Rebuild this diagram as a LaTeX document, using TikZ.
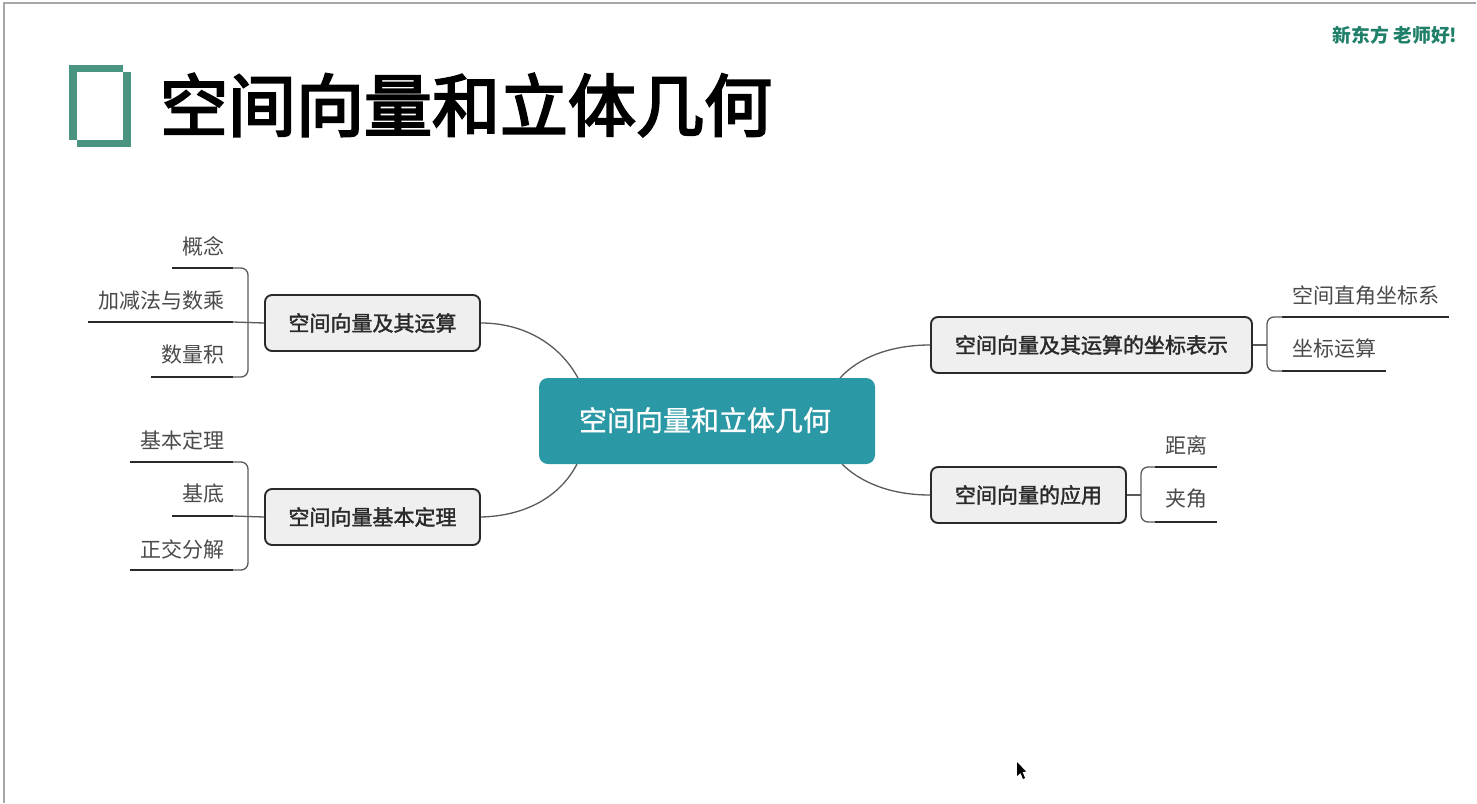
\documentclass[tikz,border=0pt]{standalone}
\usepackage{fontspec}
\setmainfont{Noto Sans CJK SC}
\newfontfamily\medA[RawFeature={embolden=1.7}]{Noto Sans CJK SC}
\newfontfamily\medB[RawFeature={embolden=0.9}]{Noto Sans CJK SC}
\newfontfamily\medC[RawFeature={embolden=3.2}]{Noto Sans CJK SC}
\usetikzlibrary{calc}
\definecolor{framec}{HTML}{A6A6A6}
\definecolor{markc}{HTML}{4A9581}
\definecolor{logoc}{HTML}{1F7F68}
\definecolor{rootc}{HTML}{2B98A5}
\definecolor{boxc}{HTML}{EFEFEF}
\definecolor{inkc}{HTML}{2A2A2A}
\definecolor{linec}{HTML}{5A5A5A}
\tikzset{
  rootbox/.style={fill=rootc,rounded corners=9pt,text=white,font=\medB\fontsize{28}{30}\selectfont,inner sep=0pt},
  subbox/.style={draw=inkc,line width=1.9pt,fill=boxc,rounded corners=7pt,text=inkc,font=\medA\fontsize{21}{24}\selectfont,inner sep=0pt},
  leaf/.style={text=inkc!85!white,font=\fontsize{21}{24}\selectfont,inner sep=0pt},
  wire/.style={draw=linec,line width=1.3pt},
  rulestyle/.style={draw=inkc,line width=1.9pt},
  bracket/.style={draw=linec,line width=1.3pt,rounded corners=7pt}
}
\begin{document}
\begin{tikzpicture}[x=1pt,y=-1pt]
\useasboundingbox (0,0) rectangle (1477,803);
\fill[white] (0,0) rectangle (1477,803);
% screen frame
\draw[framec,line width=1.6pt] (4,803) -- (4,3) -- (1476,3);
% title mark
\fill[markc] (69,65) rectangle (123,72);
\fill[markc] (69,65) rectangle (77,140);
\fill[markc] (123,72) rectangle (131,147);
\fill[markc] (77,140) rectangle (131,147);
\node[font=\medC\fontsize{68}{72}\selectfont,text=black,inner sep=0pt] (title) at (466,105) {空间向量和立体几何};
\node[font=\bfseries\fontsize{18.8}{20}\selectfont,text=logoc,inner sep=0pt,anchor=east] (brand) at (1457.5,35) {新东方 老师好!};
% root
\node[rootbox,minimum width=336pt,minimum height=86pt] (root) at (707,421) {\raisebox{4pt}{\kern-4pt 空间向量和立体几何}};
% sub topics
\node[subbox,minimum width=215pt,minimum height=56pt] (a) at (372.5,323) {空间向量及其运算};
\node[subbox,minimum width=215pt,minimum height=56pt] (b) at (372.5,517) {空间向量基本定理};
\node[subbox,minimum width=321pt,minimum height=56pt] (c) at (1091.5,345) {空间向量及其运算的坐标表示};
\node[subbox,minimum width=195pt,minimum height=56pt] (d) at (1028.5,495) {空间向量的应用};
% root connectors
\coordinate (ra) at (578,378);
\coordinate (rb) at (577,464);
\coordinate (rc) at (840,378);
\coordinate (rd) at (842,464);
\draw[wire] (a.east) .. controls (525,323) and (560,345) .. (ra);
\draw[wire] (b.east) .. controls (525,516) and (560,497) .. (rb);
\draw[wire] (c.west) .. controls (890,345) and (858,358) .. (rc);
\draw[wire] (d.west) .. controls (890,495) and (860,482) .. (rd);
% leaves
\node[leaf,anchor=east] (a1) at (224.5,246) {概念};
\node[leaf,anchor=east] (a2) at (224.5,301) {加减法与数乘};
\node[leaf,anchor=east] (a3) at (224.5,355) {数量积};
\node[leaf,anchor=east] (b1) at (224.5,440) {基本定理};
\node[leaf,anchor=east] (b2) at (224.5,494) {基底};
\node[leaf,anchor=east] (b3) at (224.5,549) {正交分解};
\node[leaf,anchor=west] (c1) at (1292,295.5) {空间直角坐标系};
\node[leaf,anchor=west] (c2) at (1292,348.5) {坐标运算};
\node[leaf,anchor=west] (d1) at (1165,445) {距离};
\node[leaf,anchor=west] (d2) at (1165,499) {夹角};
% leaf rules
\coordinate (a1s) at (172,268); \coordinate (a1e) at (233,268);
\coordinate (a2s) at (88,322);  \coordinate (a2e) at (233,322);
\coordinate (a3s) at (151,377); \coordinate (a3e) at (233,377);
\coordinate (b1s) at (130,462); \coordinate (b1e) at (233,462);
\coordinate (b2s) at (172,516); \coordinate (b2e) at (233,516);
\coordinate (b3s) at (130,570); \coordinate (b3e) at (233,570);
\coordinate (c1s) at (1282,317); \coordinate (c1e) at (1449,317);
\coordinate (c2s) at (1282,371); \coordinate (c2e) at (1386,371);
\coordinate (d1s) at (1155,467); \coordinate (d1e) at (1217,467);
\coordinate (d2s) at (1155,522); \coordinate (d2e) at (1217,522);
\foreach \n in {a1,a2,a3,b1,b2,b3,c1,c2,d1,d2}{\draw[rulestyle] (\n s) -- (\n e);}
% brackets
\draw[bracket] (a1e) -- (248,268) -- (248,377) -- (a3e);
\draw[wire] (a.west) -- (a2e);
\draw[bracket] (b1e) -- (248,462) -- (248,570) -- (b3e);
\draw[wire] (b.west) -- (b2e);
\draw[bracket] (c1s) -- (1267,317) -- (1267,371) -- (c2s);
\draw[wire] (c.east) -- (1267,345);
\draw[bracket] (d1s) -- (1141,467) -- (1141,522) -- (d2s);
\draw[wire] (d.east) -- (1141,495);
% mouse cursor
\fill[black] (1017,762) -- (1017,776) -- (1020.5,773) -- (1023,779) -- (1025,778) -- (1022.5,772) -- (1026,771.5) -- cycle;
\end{tikzpicture}
\end{document}
